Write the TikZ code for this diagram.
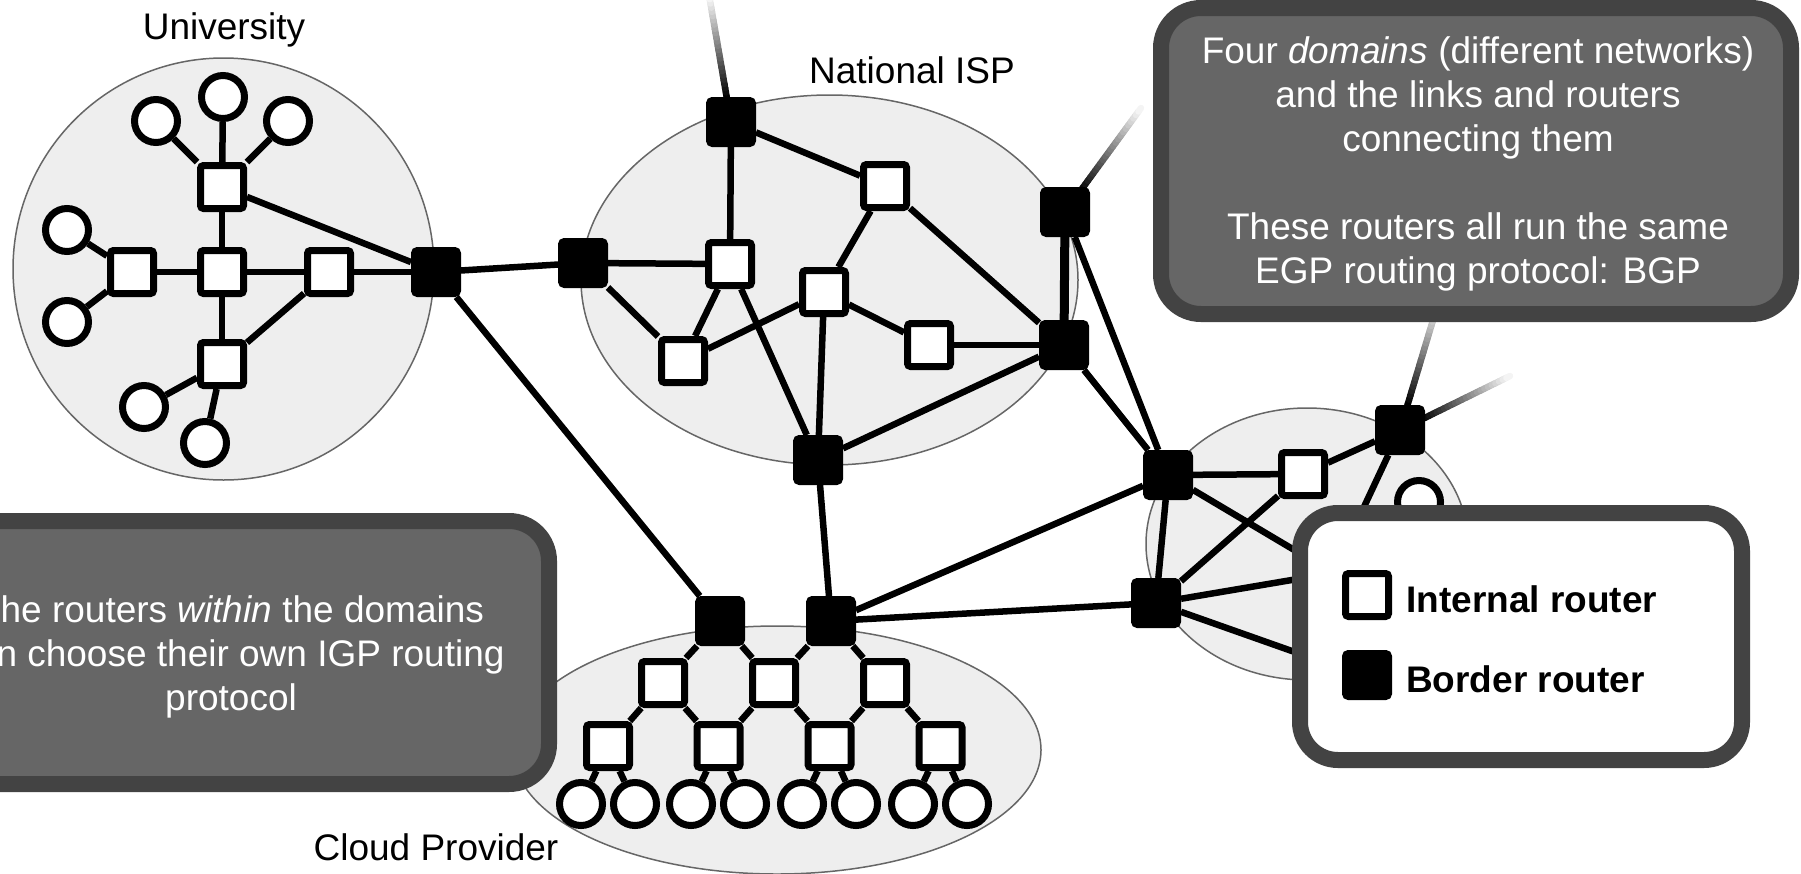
\documentclass[tikz,border=0pt]{standalone}
\usepackage{fontspec}
\setmainfont{Liberation Sans}
\usetikzlibrary{calc}
\definecolor{domfill}{HTML}{EEEEEE}
\definecolor{domline}{HTML}{666666}
\definecolor{notefill}{HTML}{666666}
\definecolor{noteedge}{HTML}{434343}
\pgfdeclarelayer{domains}
\pgfdeclarelayer{links}
\pgfsetlayers{domains,links,main}

% a link that fades out towards its free end
\newcommand\fadelink[2]{%
  \foreach \k in {0,...,29}{%
    \pgfmathsetmacro\ta{\k/30}%
    \pgfmathsetmacro\tb{(\k+1)/30}%
    \pgfmathsetmacro\sh{min(100,100*(1-\ta)/0.8)}%
    \draw[link, line cap=round, black!\sh] ($(#1)!\ta!(#2)$) -- ($(#1)!\tb!(#2)$);
  }}

\begin{document}
\begin{tikzpicture}[x=1pt, y=-1pt,
  link/.style={line width=6.5pt},
  irouter/.style={rectangle, rounded corners=3pt, minimum size=43pt, inner sep=0pt,
                  draw=black, line width=7pt, fill=white},
  brouter/.style={irouter, fill=black},
  host/.style={circle, minimum size=43pt, inner sep=0pt, draw=black, line width=7pt, fill=white},
  domarea/.style={fill=domfill, draw=domline, line width=1.5pt},
  notebox/.style={draw=noteedge, fill=notefill, line width=16pt, rounded corners=40pt},
  legendbox/.style={draw=noteedge, fill=white, line width=16pt, rounded corners=38pt},
  lab/.style={inner sep=0pt, anchor=base, font=\fontsize{37}{44}\selectfont},
  notetxt/.style={lab, text=white},
  legtxt/.style={inner sep=0pt, anchor=base west, font=\fontsize{37}{44}\selectfont\bfseries},
]
\useasboundingbox (0,0) rectangle (1801,873);
\clip (0,0) rectangle (1801,873);

% ---------- domains ----------
\begin{pgfonlayer}{domains}
  \draw[domarea] (223.5,269) ellipse [x radius=210.5, y radius=211];
  \draw[domarea] (829.5,280) ellipse [x radius=248.5, y radius=185];
  \draw[domarea] (777,750) ellipse [x radius=264, y radius=124];
  \draw[domarea] (1307,544) ellipse [x radius=161, y radius=136];
\end{pgfonlayer}

% ---------- University ----------
\node[irouter] (Ut) at (222,187) {};
\node[irouter] (Uc) at (222,272) {};
\node[irouter] (Ul) at (132,272) {};
\node[irouter] (Ur) at (329,272) {};
\node[irouter] (Ub) at (222,364) {};
\node[brouter] (UB) at (436,272) {};
\node[host] (u1) at (156,121) {};
\node[host] (u2) at (223,97) {};
\node[host] (u3) at (288,121) {};
\node[host] (u4) at (67,230) {};
\node[host] (u5) at (67,322) {};
\node[host] (u6) at (144,407) {};
\node[host] (u7) at (205,443) {};

% ---------- National ISP ----------
\node[brouter] (N1) at (731,122) {};
\node[irouter] (N2) at (885,186) {};
\node[brouter] (N3) at (1065,212) {};
\node[brouter] (NB) at (583,263) {};
\node[irouter] (N4) at (730,264) {};
\node[irouter] (N5) at (824,292) {};
\node[irouter] (N6) at (683,361) {};
\node[irouter] (N7) at (929,345) {};
\node[brouter] (N8) at (1064,345) {};
\node[brouter] (N9) at (818,460) {};

% ---------- Cloud Provider ----------
\node[brouter] (C1) at (720,621) {};
\node[brouter] (C2) at (831,621) {};
\node[irouter] (La) at (663,683) {};
\node[irouter] (Lb) at (774,683) {};
\node[irouter] (Lc) at (885,683) {};
\node[irouter] (Ma) at (608,746) {};
\node[irouter] (Mb) at (718.5,746) {};
\node[irouter] (Mc) at (829.5,746) {};
\node[irouter] (Md) at (940.5,746) {};
\foreach [count=\i] \x in {581,635,691,745,802,856,913,967}
  \node[host] (h\i) at (\x,804) {};

% ---------- fourth domain ----------
\node[brouter] (R1) at (1168,475) {};
\node[irouter] (R2) at (1303,474) {};
\node[brouter] (R3) at (1156,603) {};
\node[brouter] (R4) at (1400,430) {};
\node[host] (Rc) at (1419,502) {};
\coordinate (H1) at (1333,573);
\coordinate (H2) at (1340,668);

% free ends of the links leaving the picture
\coordinate (fa1) at (709,-5);
\coordinate (fa2) at (1141,108);
\coordinate (fa3) at (1439,300);
\coordinate (fa4) at (1510,376);

% ---------- links ----------
\begin{pgfonlayer}{links}
  % University
  \foreach \a/\b in {Ut/u1, Ut/u2, Ut/u3, Ut/Uc, Ul/Uc, Uc/Ur, Uc/Ub, Ul/u4, Ul/u5,
                     Ub/u6, Ub/u7, Ur/Ub, Ur/UB, Ut/UB}
    \draw[link] (\a) -- (\b);
  % between domains and National ISP
  \foreach \a/\b in {UB/NB, UB/C1, NB/N4, NB/N6, N1/N4, N1/N2, N4/N6, N4/N9, N6/N5,
                     N2/N5, N2/N8, N5/N9, N5/N7, N7/N8, N8/N9, N3/R1, N8/R1, N9/C2}
    \draw[link] (\a) -- (\b);
  \draw[line width=9pt] (N3) -- (N8);
  % Cloud Provider
  \foreach \a/\b in {C1/La, C1/Lb, C2/Lb, C2/Lc, La/Ma, La/Mb, Lb/Mb, Lb/Mc, Lc/Mc, Lc/Md,
                     Ma/h1, Ma/h2, Mb/h3, Mb/h4, Mc/h5, Mc/h6, Md/h7, Md/h8}
    \draw[link] (\a) -- (\b);
  % fourth domain
  \foreach \a/\b in {C2/R1, C2/R3, R1/R2, R2/R4, R1/R3, R2/R3, R1/H1, R3/H1, R4/H1, R3/H2}
    \draw[link] (\a) -- (\b);
  % links to the rest of the Internet
  \fadelink{N1}{fa1}
  \fadelink{N3}{fa2}
  \fadelink{R4}{fa3}
  \fadelink{R4}{fa4}
\end{pgfonlayer}

% ---------- domain names ----------
\node[lab] (tU) at (224,39) {University};
\node[lab] (tN) at (912,83) {National ISP};
\node[lab] (tC) at (436,860) {Cloud Provider};

% ---------- notes ----------
\draw[notebox] (1161,8) rectangle (1791,314);
\node[notetxt] (n1) at (1478,63) {Four \textit{domains} (different networks)};
\node[notetxt] (n2) at (1478,107) {and the links and routers};
\node[notetxt] (n3) at (1478,151) {connecting them};
\node[notetxt] (n4) at (1478,239) {These routers all run the same};
\node[notetxt] (n5) at (1478,283) {EGP routing protocol: BGP};

\draw[notebox] (-87,521) rectangle (549,784);
\node[notetxt] (l1) at (231,622) {The routers \textit{within} the domains};
\node[notetxt] (l2) at (231,666) {can choose their own IGP routing};
\node[notetxt] (l3) at (231,710) {protocol};

% ---------- legend ----------
\draw[legendbox] (1300,513) rectangle (1742,760);
\node[irouter] (k1) at (1367,595) {};
\node[brouter] (k2) at (1367,675) {};
\node[legtxt] (k1t) at (1406,612) {Internal router};
\node[legtxt] (k2t) at (1406,692) {Border router};
\end{tikzpicture}
\end{document}
